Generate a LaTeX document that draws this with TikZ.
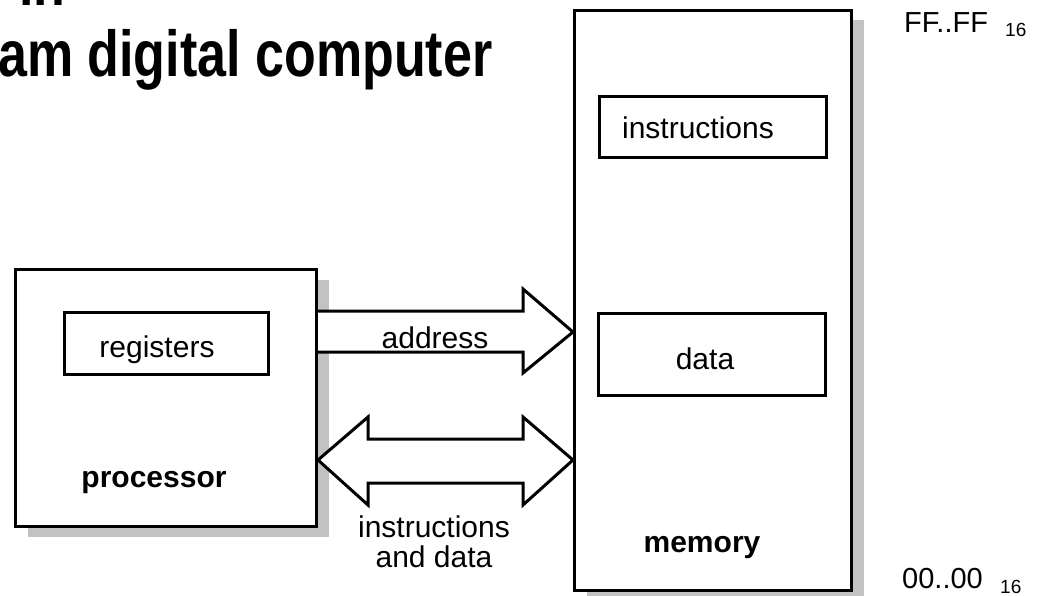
\documentclass[tikz,border=0pt]{standalone}
\usepackage{fontspec}
\setmainfont{Liberation Sans}
\newfontfamily\headfont{Liberation Sans}[FakeStretch=0.8]
\usetikzlibrary{shadows,calc}
\begin{document}
\begin{tikzpicture}[x=1pt,y=-1pt,
  box/.style={draw, line width=3pt, rectangle, fill=white, inner sep=0pt},
  boxshadow/.style={general shadow={fill=black!24, shadow xshift=12pt, shadow yshift=-10pt}},
  lbl/.style={inner sep=0pt, anchor=base, font=\fontsize{30}{30}\selectfont},
  boldlbl/.style={lbl, font=\fontsize{30}{30}\selectfont\bfseries},
  headline/.style={inner sep=0pt, anchor=base west, font=\headfont\bfseries\fontsize{65}{65}\selectfont},
  addr/.style={inner sep=0pt, anchor=base west, font=\fontsize{29}{29}\selectfont},
  radix/.style={inner sep=0pt, anchor=base west, font=\fontsize{19}{19}\selectfont},
  bus/.style={draw, line width=3pt, fill=white, line join=miter}]
\useasboundingbox (0,0) rectangle (1038,596);
\clip (0,0) rectangle (1038,596);

% heading
\node[headline] (headA) at (19,6) {in};
\node[headline] (headB) at (-2,77) {am digital computer};

% processor and memory blocks
\node[box, boxshadow, minimum width=301, minimum height=257] (proc) at (166,398) {};
\node[box, boxshadow, minimum width=277, minimum height=580] (mem) at (713,300.5) {};

% inner blocks
\node[box, minimum width=204, minimum height=62] (regs) at (166.5,343.5) {};
\node[box, minimum width=227, minimum height=61] (instr) at (713,127) {};
\node[box, minimum width=227, minimum height=82] (dat) at (712,354.5) {};

% labels
\node[lbl] (regsT) at (157,357) {registers};
\node[boldlbl] (procT) at (154,487) {processor};
\node[lbl] (instrT) at (698,139) {instructions};
\node[lbl] (datT) at (705,369) {data};
\node[boldlbl] (memT) at (702,552) {memory};

% address bus: one-way block arrow
\draw[bus] (proc.east |- 0,311) -- (523,311) -- (523,289) -- (mem.west |- 0,332)
  -- (523,373) -- (523,352) -- (proc.east |- 0,352);
\node[lbl] (addrT) at (435,348) {address};

% instruction/data bus: two-way block arrow
\draw[bus] (proc.east |- 0,460) -- (368,417) -- (368,439) -- (523,439) -- (523,417)
  -- (mem.west |- 0,460) -- (523,505) -- (523,483) -- (368,483) -- (368,505) -- cycle;
\node[lbl, align=center] (busT) at (434,567) {instructions\\and data};

% address range
\node[addr] (hiA) at (904,33) {FF..FF};
\node[radix] (hiR) at (1005,37) {16};
\node[addr] (loA) at (902,588) {00..00};
\node[radix] (loR) at (1000,593) {16};
\end{tikzpicture}
\end{document}
